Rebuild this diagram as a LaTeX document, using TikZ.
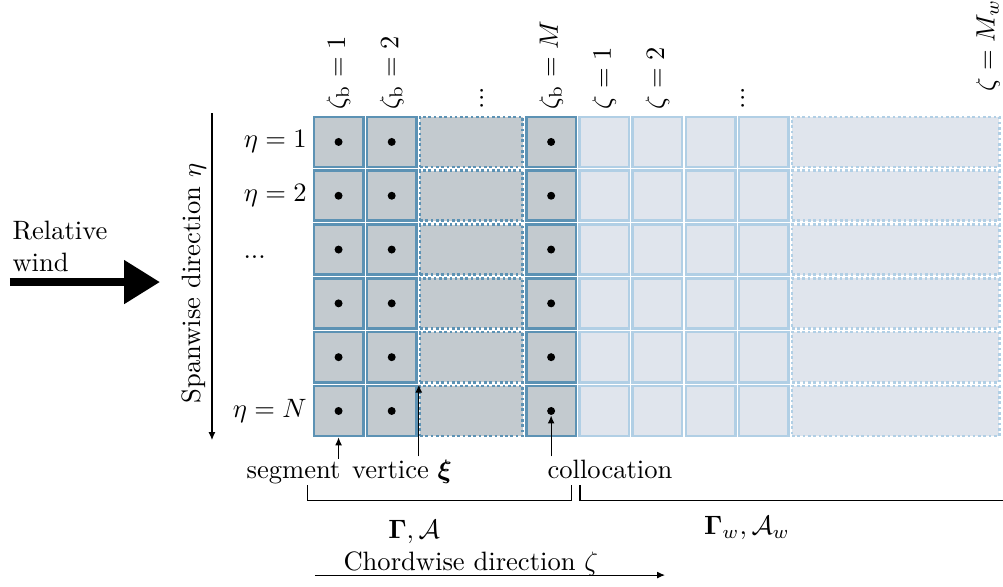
\documentclass[tikz,border=0pt]{standalone}
\usepackage{amsmath}
\usetikzlibrary{arrows.meta, positioning}
\definecolor{boundfill}{HTML}{C3CACF}
\definecolor{boundedge}{HTML}{5C92B4}
\definecolor{wakefill}{HTML}{E0E5ED}
\definecolor{wakeedge}{HTML}{B1CFE5}

\begin{document}
\begin{tikzpicture}[
  x=20pt, y=20.25pt,
  arrow/.style={-{Latex[length=3pt,width=2.6pt]}},
  cell/.style={
    draw,
    line width=1pt,
    inner sep=0pt,
    minimum width=18.6pt,
    minimum height=18.85pt
  },
  bcell/.style={cell, draw=boundedge, fill=boundfill},
  wcell/.style={cell, draw=wakeedge, fill=wakefill},
  wide/.style={densely dotted, minimum width=#1},
  cpoint/.style={circle, fill=black, inner sep=0pt, minimum size=3pt},
  toplabel/.style={rotate=90, anchor=west, inner sep=2pt},
  bottomlabel/.style={anchor=base, inner sep=1pt}
]
\useasboundingbox (-5.871,-8.755) rectangle (13.003,2.138);

% =========================
% Panels
% =========================
\foreach \r in {0,...,5} {
  \node[bcell] (b0-\r) at (0.5,-\r-0.5) {};
  \node[bcell] (b1-\r) at (1.5,-\r-0.5) {};
  \node[bcell, wide=38.6pt] (b2-\r) at (3,-\r-0.5) {};
  \node[bcell] (b4-\r) at (4.5,-\r-0.5) {};
  \foreach \c in {5,...,8}
    \node[wcell] (w\c-\r) at (\c+0.5,-\r-0.5) {};
  \node[wcell, wide=78pt] (w9-\r) at (10.985,-\r-0.5) {};
  \foreach \c in {0,1,4}
    \node[cpoint] (p\c-\r) at (b\c-\r) {};
}

% =========================
% Row and column labels
% =========================
\node[left=1pt of b0-0, inner sep=1pt] (eta1) {$\eta=1$};
\node[left=1pt of b0-1, inner sep=1pt] (eta2) {$\eta=2$};
\node[anchor=base west, inner sep=0pt] (etadots) at (-1.298,-2.658) {...};
\node[left=1pt of b0-5, inner sep=1pt] (etaN) {$\eta=N$};

\node[toplabel] (zb1) at (b0-0.north) {$\zeta_{\mathrm{b}}=1$};
\node[toplabel] (zb2) at (b1-0.north) {$\zeta_{\mathrm{b}}=2$};
\node[toplabel] (zbdots) at (3.2,0) {...};
\node[toplabel] (zbM) at (b4-0.north) {$\zeta_{\mathrm{b}}=M$};
\node[toplabel] (z1) at (w5-0.north) {$\zeta=1$};
\node[toplabel] (z2) at (w6-0.north) {$\zeta=2$};
\node[toplabel] (zdots) at (8.11,0) {...};
\node[toplabel, inner sep=0pt] (zMw) at (12.72,0.4275) {$\zeta=M_w$};

% =========================
% Spanwise direction and wind
% =========================
\coordinate (spantop) at (-1.882,0.037);
\coordinate (spanbot) at (-1.882,-6.041);
\draw[arrow] (spantop) -- (spanbot);
\node[rotate=90, anchor=south, inner sep=2pt] (spanlabel) at (-1.882,-3.132)
{Spanwise direction $\eta$};

\coordinate (windtail) at (-5.683,-3.104);
\coordinate (windhead) at (-2.861,-3.104);
\draw[line width=3pt, -{Triangle[length=13.5pt,width=15.8pt]}] (windtail) -- (windhead);
\node[align=left, anchor=south west, inner sep=0pt] (windlabel) at (-5.645,-2.918)
{Relative\\wind};

% =========================
% Bottom annotations
% =========================
\node[bottomlabel] (seg) at (-0.348,-6.747) {segment};
\node[bottomlabel] (vert) at (1.694,-6.747) {vertice $\boldsymbol{\xi}$};
\node[bottomlabel] (coll) at (5.608,-6.747) {collocation};

\draw[arrow] (seg.north -| b0-5.south) -- (b0-5.south);
\draw[arrow] (vert.north -| b2-5.north west) -- (b2-5.north west);
\draw[arrow] (coll.north -| p4-5) -- (p4-5.south);

\coordinate (gl) at (-0.088,-7.156);
\coordinate (gr) at (4.887,-7.156);
\coordinate (gwl) at (5.043,-7.156);
\coordinate (gwr) at (13.2,-7.156);
\draw ([yshift=5.6pt]gl) -- (gl) -- (gr) -- ([yshift=5.6pt]gr);
\draw ([yshift=5.6pt]gwl) -- (gwl) -- (gwr) -- ([yshift=5.6pt]gwr);

\node[anchor=base] (gammab) at (1.92,-7.862) {$\mathbf{\Gamma}, \mathcal{A}$};
\node[anchor=base] (gammaw) at (8.186,-7.788) {$\mathbf{\Gamma}_w, \mathcal{A}_w$};

\coordinate (chordtail) at (0.056,-8.55);
\coordinate (chordhead) at (6.643,-8.55);
\draw[arrow] (chordtail) -- (chordhead);
\node[anchor=base west, inner sep=0pt] (chordlabel) at (0.583,-8.457)
{Chordwise direction $\zeta$};

\end{tikzpicture}
\end{document}
